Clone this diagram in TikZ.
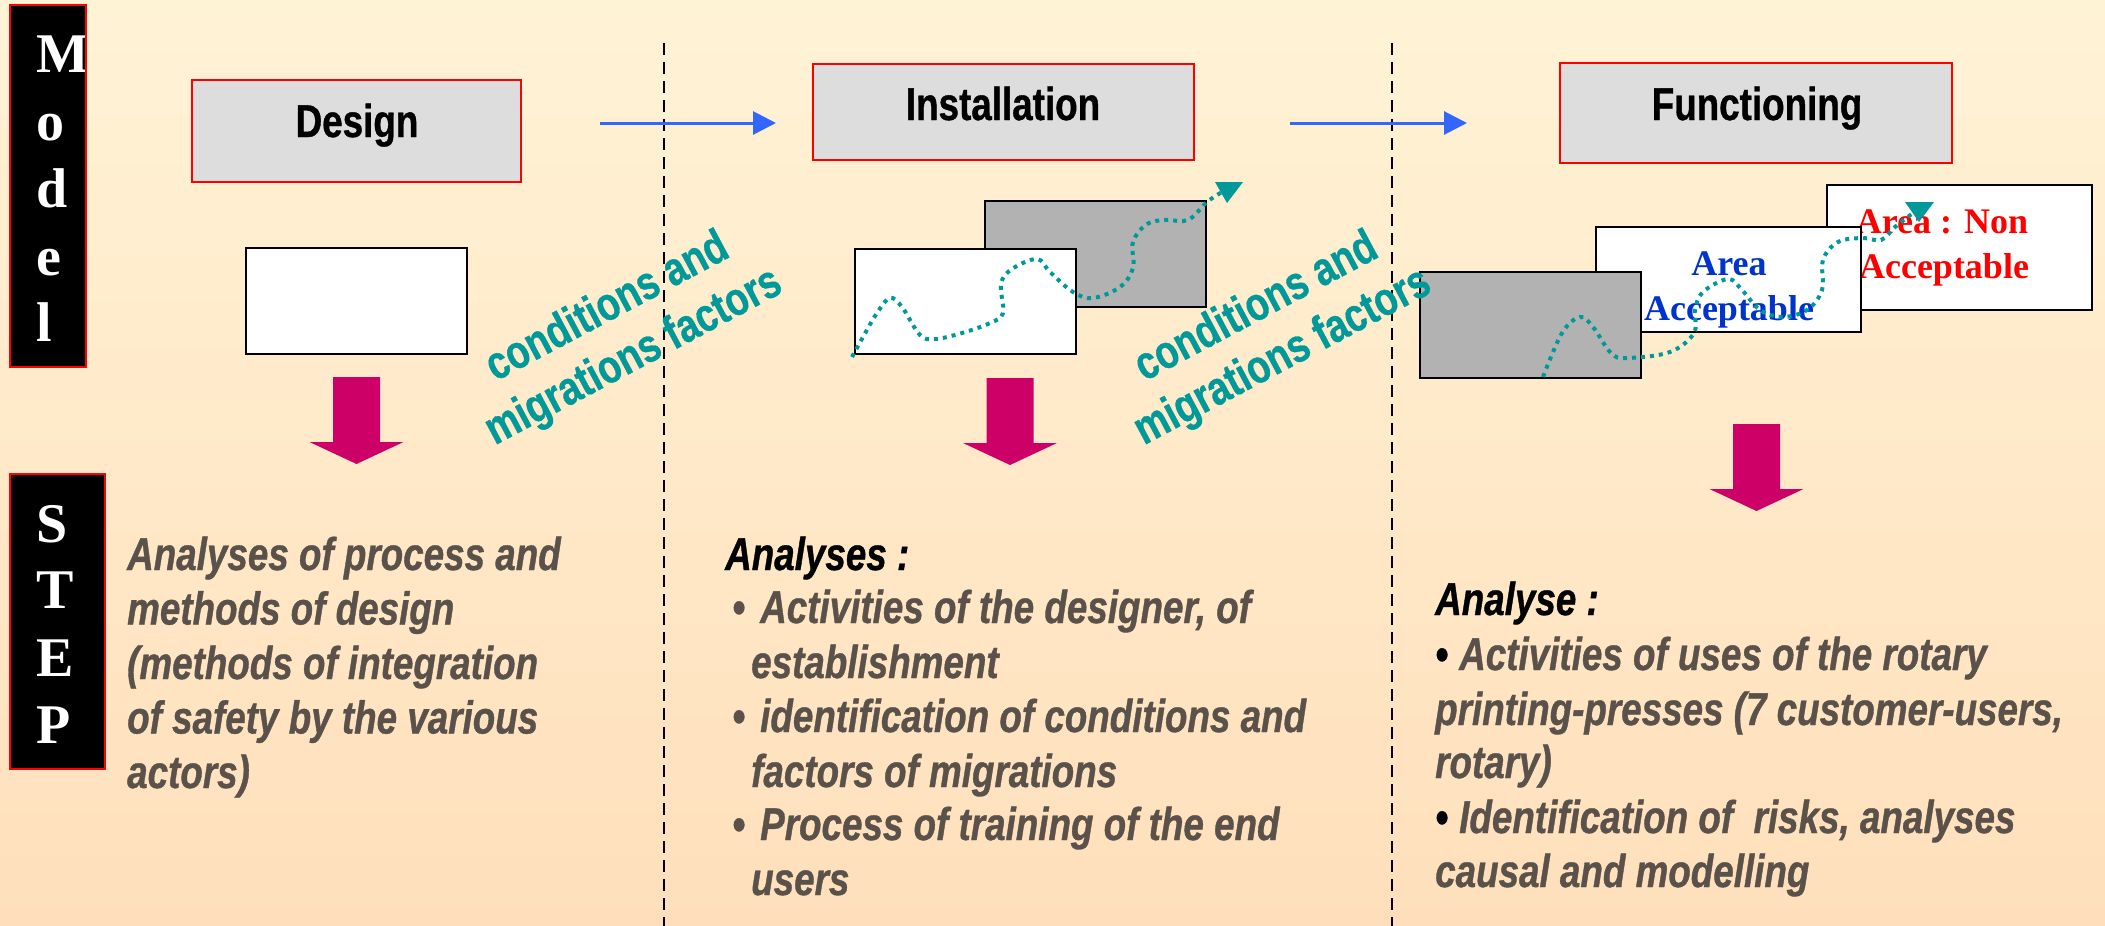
\documentclass[tikz,border=0pt]{standalone}
\usepackage{fontspec}
\usetikzlibrary{arrows.meta}
\newfontfamily\narrowsans[FakeStretch=0.80, FakeBold=0.8]{Liberation Sans}
\newfontfamily\timesfont{Liberation Serif}
\definecolor{bgtop}{RGB}{255,243,214}
\definecolor{bgbot}{RGB}{255,223,187}
\definecolor{boxgray}{RGB}{221,221,221}
\definecolor{midgray}{RGB}{178,178,178}
\definecolor{tealc}{RGB}{0,153,153}
\definecolor{magentac}{RGB}{204,0,102}
\definecolor{bluearrow}{RGB}{51,102,255}
\definecolor{txtgray}{RGB}{90,82,74}
\definecolor{areablue}{RGB}{0,51,204}
\begin{document}
\begin{tikzpicture}[x=1pt,y=-1pt,
  stagebox/.style={draw=red, fill=boxgray, line width=2pt, inner sep=0pt},
  plainbox/.style={draw=black, fill=white, line width=2.5pt, inner sep=0pt},
  shadebox/.style={draw=black, fill=midgray, line width=2.5pt, inner sep=0pt},
  sidebox/.style={fill=black, inner sep=0pt},
  sideletter/.style={text=white, font=\timesfont\bfseries\fontsize{56}{56}\selectfont, inner sep=0pt, anchor=base west},
  stagelabel/.style={font=\narrowsans\bfseries\fontsize{46}{54}\selectfont, inner sep=0pt, anchor=base},
  migtext/.style={text=tealc, font=\narrowsans\bfseries\fontsize{47}{56}\selectfont, align=center, rotate=28, inner sep=0pt},
  body/.style={text=txtgray, font=\narrowsans\bfseries\itshape\fontsize{46}{55}\selectfont, inner sep=0pt, anchor=base west},
  bodyhead/.style={body, text=black},
  dotline/.style={draw=tealc, line width=4pt, dash pattern=on 4pt off 5pt},
  flowarrow/.style={draw=bluearrow, line width=3pt, -{Triangle[length=23pt,width=23pt]}},
  divider/.style={draw=black, line width=2pt, dash pattern=on 12pt off 7pt},
  areatext/.style={font=\timesfont\bfseries\fontsize{36}{36}\selectfont, inner sep=0pt, anchor=base},
  downarrow/.pic={\fill[magentac] (-23.5,0) -- (23.5,0) -- (23.5,65) -- (47,65) -- (0,87) -- (-47,65) -- (-23.5,65) -- cycle;}
]
\useasboundingbox (0,0) rectangle (2105,926);
\shade[top color=bgtop, bottom color=bgbot] (0,0) rectangle (2105,926);

% side labels
\node[sidebox, minimum width=76pt, minimum height=362pt] (modelbox) at (48,186) {};
\node[sideletter] (mM) at (36,72) {M};
\node[sideletter] (mo) at (36,140) {o};
\node[sideletter] (md) at (36,207) {d};
\node[sideletter] (me) at (36,275) {e};
\node[sideletter] (ml) at (36,341) {l};
\draw[red, line width=2pt] (modelbox.north west) rectangle (modelbox.south east);

\node[sidebox, minimum width=95pt, minimum height=295pt] (stepbox) at (57.5,621.5) {};
\node[sideletter] (sS) at (36,542) {S};
\node[sideletter] (sT) at (36,608) {T};
\node[sideletter] (sE) at (36,676) {E};
\node[sideletter] (sP) at (36,743) {P};
\draw[red, line width=2pt] (stepbox.north west) rectangle (stepbox.south east);

% dividers
\coordinate (d1top) at (664,43);
\coordinate (d1bot) at (664,926);
\coordinate (d2top) at (1392,43);
\coordinate (d2bot) at (1392,926);
\draw[divider] (d1top) -- (d1bot);
\draw[divider] (d2top) -- (d2bot);

% stage boxes
\node[stagebox, minimum width=329pt, minimum height=102pt] (design) at (356.5,131) {};
\node[stagelabel] (designlbl) at (357,137) {Design};
\node[stagebox, minimum width=381pt, minimum height=96pt] (install) at (1003.5,112) {};
\node[stagelabel] (installlbl) at (1003,120) {Installation};
\node[stagebox, minimum width=392pt, minimum height=100pt] (function) at (1756,113) {};
\node[stagelabel] (functionlbl) at (1757,120) {Functioning};

% flow arrows
\coordinate (f1s) at (600,123);
\coordinate (f1e) at (776,123);
\coordinate (f2s) at (1290,123);
\coordinate (f2e) at (1467,123);
\draw[flowarrow] (f1s) -- (f1e);
\draw[flowarrow] (f2s) -- (f2e);

% design model
\node[plainbox, minimum width=221pt, minimum height=106pt] (designwhite) at (356.5,301) {};

% installation model
\node[shadebox, minimum width=221pt, minimum height=106pt] (instgray) at (1095.5,254) {};
\node[plainbox, minimum width=221pt, minimum height=105pt] (instwhite) at (965.5,301.5) {};
\draw[dotline] plot[smooth, tension=0.6] coordinates {(852,357) (863,337) (877,313) (890,298) (902,307) (920,335) (935,339) (962,333) (990,323) (1003,313) (1001,284) (1012,269) (1037,259) (1050,272) (1073,292) (1093,298) (1120,287) (1133,268) (1133,242) (1147,224) (1166,220) (1188,220) (1207,202) (1222,192)};
\fill[tealc] (1215,182) -- (1243,182) -- (1227,203) -- cycle;

% functioning model
\node[plainbox, minimum width=265pt, minimum height=125pt] (funcright) at (1959.5,247.5) {};
\node[areatext, text=red] (nonA) at (1942,233) {Area : Non};
\node[areatext, text=red] (nonB) at (1944,278) {Acceptable};
\node[plainbox, minimum width=265pt, minimum height=105pt] (funcmid) at (1728.5,279.5) {};
\node[areatext, text=areablue] (accA) at (1729,275) {Area};
\node[areatext, text=areablue] (accB) at (1729,320) {Acceptable};
\node[shadebox, minimum width=221pt, minimum height=106pt] (funcgray) at (1530.5,325) {};
\draw[dotline] plot[smooth, tension=0.6] coordinates {(1543,377) (1562,333) (1580,317) (1593,327) (1611,353) (1627,358) (1670,352) (1694,333) (1695,310) (1703,292) (1728,279) (1742,290) (1760,310) (1782,317) (1807,310) (1822,290) (1823,260) (1838,242) (1863,238) (1881,240) (1895,227) (1913,213)};
\fill[tealc] (1905,202) -- (1934,202) -- (1919,222) -- cycle;

% migration labels
\node[migtext] (mig1) at (621,333) {conditions and\\migrations factors};
\node[migtext] (mig2) at (1270,333) {conditions and\\migrations factors};

% magenta arrows
\pic at (356.5,377) {downarrow};
\pic at (1010,378) {downarrow};
\pic at (1756.5,424) {downarrow};

% block 1
\node[body] (b1a) at (127,570) {Analyses of process and};
\node[body] (b1b) at (127,624.5) {methods of design};
\node[body] (b1c) at (127,679) {(methods of integration};
\node[body] (b1d) at (127,733.5) {of safety by the various};
\node[body] (b1e) at (127,788) {actors)};

% block 2
\node[bodyhead] (b2h) at (725,570) {Analyses :};
\node[body] (b2p1) at (732,623) {\textbullet};
\node[body] (b2a) at (760,623) {Activities of the designer, of};
\node[body] (b2b) at (751,678) {establishment};
\node[body] (b2p2) at (732,732) {\textbullet};
\node[body] (b2c) at (760,732) {identification of conditions and};
\node[body] (b2d) at (751,787) {factors of migrations};
\node[body] (b2p3) at (732,840) {\textbullet};
\node[body] (b2e) at (760,840) {Process of training of the end};
\node[body] (b2f) at (751,895) {users};

% block 3
\node[bodyhead] (b3h) at (1435,615) {Analyse :};
\node[bodyhead] (b3p1) at (1435,670) {\textbullet};
\node[body] (b3a) at (1459,670) {Activities of uses of the rotary};
\node[body] (b3b) at (1435,725) {printing-presses (7 customer-users,};
\node[body] (b3c) at (1435,778) {rotary)};
\node[bodyhead] (b3p2) at (1435,833) {\textbullet};
\node[body] (b3d) at (1459,833) {Identification of\ \ risks, analyses};
\node[body] (b3e) at (1435,887) {causal and modelling};
\end{tikzpicture}
\end{document}
